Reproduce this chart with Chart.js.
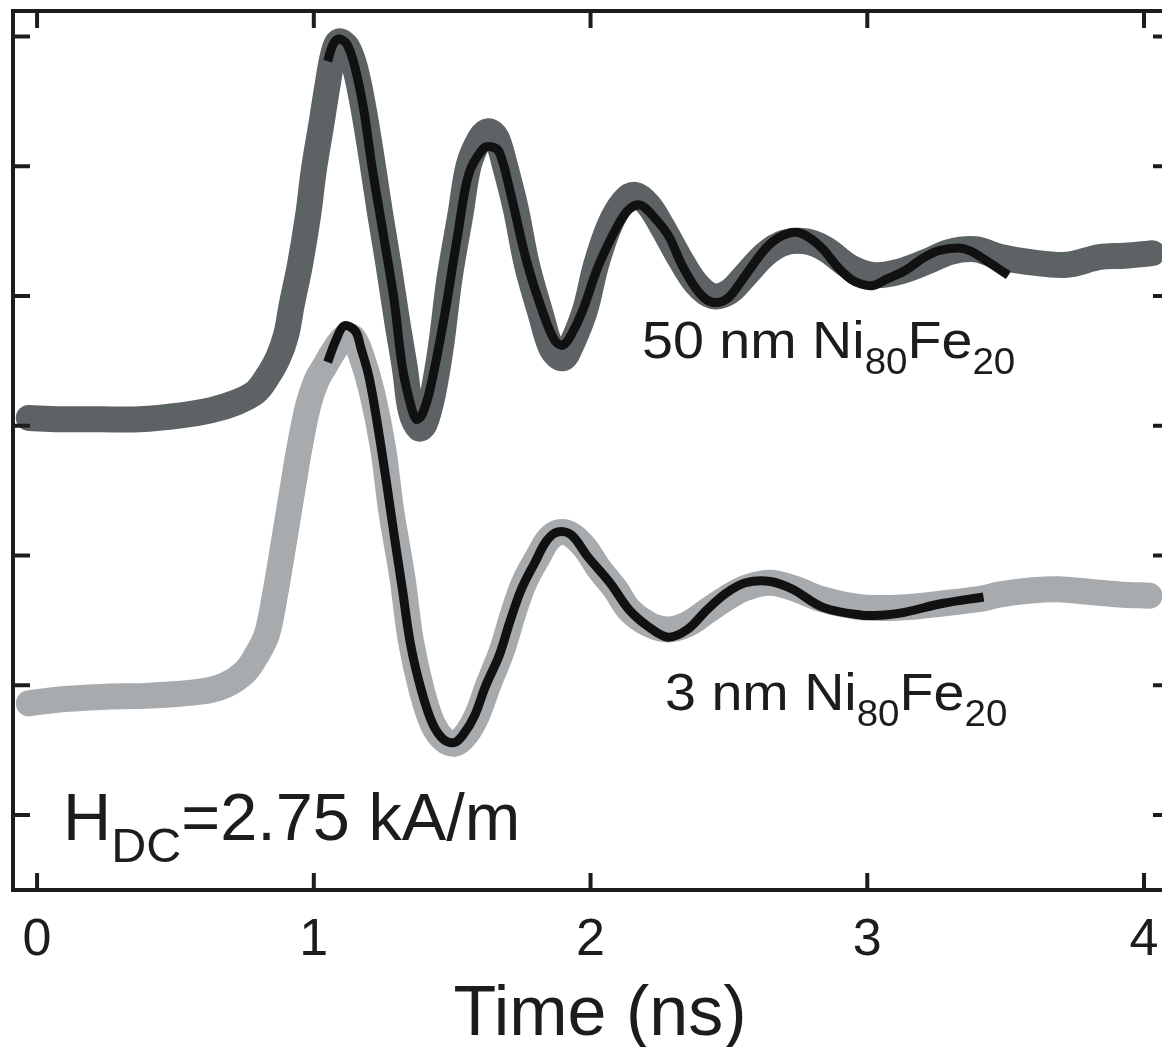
<!DOCTYPE html>
<html>
<head>
<meta charset="utf-8">
<script src="https://cdn.jsdelivr.net/npm/chart.js@4.4.1/dist/chart.umd.min.js"></script>
<style>
  html, body { margin: 0; padding: 0; background: #fff; }
  #wrap { width: 1162px; height: 1047px; }
</style>
</head>
<body>
<div id="wrap"><canvas id="chart" width="1162" height="1047"></canvas></div>
<script>
// 50 nm film: measured signal (ns, arb. units)
const timeThick = [-0.03, 0.08, 0.23, 0.37, 0.52, 0.63, 0.72, 0.79, 0.83, 0.87, 0.90, 0.92, 0.95, 0.98, 1.00, 1.03, 1.05, 1.07, 1.09, 1.12, 1.15, 1.18, 1.21, 1.24, 1.27, 1.30, 1.33, 1.35, 1.38, 1.40, 1.43, 1.46, 1.49, 1.53, 1.56, 1.60, 1.63, 1.66, 1.69, 1.73, 1.77, 1.82, 1.86, 1.90, 1.93, 1.98, 2.02, 2.07, 2.12, 2.16, 2.21, 2.26, 2.32, 2.38, 2.44, 2.50, 2.56, 2.63, 2.70, 2.78, 2.85, 2.94, 3.03, 3.12, 3.21, 3.30, 3.39, 3.48, 3.59, 3.72, 3.84, 3.93, 4.03];
const sigThick  = [3.06, 3.05, 3.05, 3.05, 3.08, 3.12, 3.18, 3.26, 3.37, 3.52, 3.70, 3.93, 4.24, 4.63, 4.97, 5.36, 5.63, 5.86, 5.96, 5.92, 5.75, 5.44, 5.05, 4.63, 4.24, 3.82, 3.43, 3.12, 2.98, 3.01, 3.24, 3.62, 4.13, 4.63, 5.01, 5.21, 5.27, 5.22, 5.01, 4.67, 4.24, 3.86, 3.59, 3.52, 3.62, 3.89, 4.24, 4.55, 4.73, 4.78, 4.70, 4.53, 4.30, 4.10, 4.00, 4.03, 4.16, 4.32, 4.41, 4.42, 4.36, 4.22, 4.16, 4.19, 4.26, 4.34, 4.36, 4.30, 4.26, 4.24, 4.30, 4.31, 4.33];

// 50 nm film: damped-oscillator fit
const timeThickFit = [1.05, 1.07, 1.09, 1.12, 1.15, 1.18, 1.21, 1.25, 1.29, 1.32, 1.35, 1.37, 1.39, 1.42, 1.47, 1.52, 1.56, 1.61, 1.64, 1.67, 1.71, 1.77, 1.83, 1.87, 1.90, 1.93, 1.97, 2.03, 2.10, 2.14, 2.18, 2.22, 2.28, 2.33, 2.38, 2.42, 2.46, 2.50, 2.55, 2.63, 2.68, 2.74, 2.79, 2.84, 2.89, 2.94, 2.98, 3.02, 3.07, 3.14, 3.20, 3.26, 3.33, 3.37, 3.41, 3.46, 3.51];
const sigThickFit  = [5.81, 5.94, 5.98, 5.94, 5.75, 5.44, 5.00, 4.49, 3.97, 3.45, 3.16, 3.05, 3.08, 3.28, 3.82, 4.47, 4.94, 5.13, 5.15, 5.11, 4.80, 4.26, 3.86, 3.66, 3.62, 3.70, 3.88, 4.24, 4.55, 4.67, 4.70, 4.63, 4.47, 4.24, 4.06, 3.97, 3.95, 3.99, 4.13, 4.36, 4.45, 4.49, 4.45, 4.36, 4.23, 4.13, 4.09, 4.08, 4.13, 4.20, 4.29, 4.35, 4.37, 4.35, 4.30, 4.23, 4.16];

// 3 nm film: measured signal
const timeThin = [-0.03, 0.08, 0.23, 0.41, 0.59, 0.68, 0.75, 0.79, 0.83, 0.86, 0.89, 0.92, 0.95, 0.98, 1.01, 1.04, 1.07, 1.11, 1.14, 1.17, 1.21, 1.25, 1.28, 1.32, 1.35, 1.39, 1.43, 1.47, 1.51, 1.55, 1.59, 1.63, 1.68, 1.72, 1.76, 1.81, 1.85, 1.89, 1.93, 1.98, 2.03, 2.09, 2.14, 2.21, 2.28, 2.35, 2.42, 2.49, 2.56, 2.65, 2.73, 2.84, 2.98, 3.13, 3.27, 3.42, 3.48, 3.59, 3.69, 3.80, 3.91, 4.02];
const sigThin  = [0.86, 0.89, 0.91, 0.92, 0.95, 1.00, 1.10, 1.22, 1.39, 1.70, 2.08, 2.47, 2.85, 3.16, 3.35, 3.46, 3.57, 3.68, 3.68, 3.55, 3.26, 2.83, 2.34, 1.83, 1.35, 0.96, 0.70, 0.58, 0.55, 0.62, 0.77, 1.00, 1.27, 1.55, 1.79, 1.99, 2.13, 2.18, 2.16, 2.06, 1.90, 1.74, 1.58, 1.47, 1.43, 1.47, 1.57, 1.67, 1.75, 1.79, 1.75, 1.66, 1.60, 1.60, 1.63, 1.67, 1.70, 1.73, 1.74, 1.72, 1.70, 1.69];

// 3 nm film: fit
const timeThinFit = [1.05, 1.08, 1.11, 1.15, 1.17, 1.20, 1.23, 1.26, 1.29, 1.32, 1.35, 1.39, 1.43, 1.47, 1.51, 1.54, 1.58, 1.62, 1.67, 1.71, 1.75, 1.80, 1.84, 1.88, 1.93, 1.99, 2.07, 2.14, 2.21, 2.28, 2.35, 2.42, 2.49, 2.56, 2.65, 2.73, 2.84, 2.98, 3.05, 3.13, 3.27, 3.42];
const sigThinFit  = [3.49, 3.66, 3.77, 3.73, 3.60, 3.37, 3.01, 2.60, 2.16, 1.74, 1.31, 0.95, 0.70, 0.58, 0.56, 0.62, 0.76, 0.99, 1.23, 1.50, 1.74, 1.95, 2.11, 2.18, 2.16, 1.99, 1.79, 1.58, 1.45, 1.37, 1.43, 1.58, 1.71, 1.79, 1.80, 1.74, 1.60, 1.54, 1.54, 1.56, 1.63, 1.68];

const xTicks = [0, 1, 2, 3, 4];
const yTicks = [0, 1, 2, 3, 4, 5, 6];
const xTitle = 'Time (ns)';

// label runs: [text, isSubscript]
const labelThick = [['50 nm Ni', false], ['80', true], ['Fe', false], ['20', true]];
const labelThin  = [['3 nm Ni', false], ['80', true], ['Fe', false], ['20', true]];
const labelField = [['H', false], ['DC', true], ['=2.75 kA/m', false]];

const FONT = '"Liberation Sans", Arial, Helvetica, sans-serif';
const INK = '#1c1c1c';

const pts = (t, s) => t.map((v, i) => ({ x: v, y: s[i] }));

// draws a run of normal/subscript pieces, optionally stretched horizontally
function drawRuns(ctx, runs, x0, y0, size, subSize, drop, stretch) {
    ctx.save();
    ctx.translate(x0, y0);
    ctx.scale(stretch || 1, 1);
    let xPos = 0;
    runs.forEach(([txt, sub]) => {
        ctx.font = (sub ? subSize : size) + 'px ' + FONT;
        ctx.fillText(txt, xPos, sub ? drop : 0);
        xPos += ctx.measureText(txt).width;
    });
    ctx.restore();
}

// Frame, inward ticks, tick labels and annotations
const framePlugin = {
    id: 'frame',
    afterDatasetsDraw(chart) {
        const { ctx, chartArea: a, scales: { x, y } } = chart;
        ctx.save();
        ctx.strokeStyle = INK;
        ctx.lineWidth = 4;
        ctx.lineCap = 'butt';

        // box (right side runs off the canvas)
        ctx.beginPath();
        ctx.moveTo(a.right + 10, a.top);
        ctx.lineTo(a.left, a.top);
        ctx.lineTo(a.left, a.bottom);
        ctx.lineTo(a.right + 10, a.bottom);
        ctx.stroke();

        const tl = 17;
        ctx.beginPath();
        xTicks.forEach(v => {
            const px = x.getPixelForValue(v);
            ctx.moveTo(px, a.bottom); ctx.lineTo(px, a.bottom - tl);
            ctx.moveTo(px, a.top); ctx.lineTo(px, a.top + tl);
        });
        yTicks.forEach(v => {
            const py = y.getPixelForValue(v);
            ctx.moveTo(a.left, py); ctx.lineTo(a.left + tl, py);
            ctx.moveTo(a.right + 8, py); ctx.lineTo(a.right + 8 - tl, py);
        });
        ctx.stroke();

        // tick labels
        ctx.fillStyle = INK;
        ctx.textAlign = 'center';
        ctx.textBaseline = 'alphabetic';
        ctx.font = '52px ' + FONT;
        xTicks.forEach(v => {
            ctx.fillText(String(v), x.getPixelForValue(v), 955);
        });

        // axis title
        ctx.font = '70px ' + FONT;
        ctx.fillText(xTitle, 600, 1035);

        // curve labels, placed in data coordinates
        ctx.textAlign = 'left';
        drawRuns(ctx, labelThick, x.getPixelForValue(2.186), y.getPixelForValue(3.524), 52, 36, 16, 1.07);
        drawRuns(ctx, labelThin, x.getPixelForValue(2.269), y.getPixelForValue(0.81), 52, 36, 16, 1.07);
        drawRuns(ctx, labelField, x.getPixelForValue(0.094), y.getPixelForValue(-0.193), 66, 48, 22, 1.01);

        ctx.restore();
    }
};

const bandStyle = {
    borderWidth: 26,
    pointRadius: 0,
    borderCapStyle: 'round',
    borderJoinStyle: 'round',
    tension: 0.35,
    fill: false,
    order: 2
};
const fitStyle = {
    borderWidth: 9,
    borderColor: '#111111',
    pointRadius: 0,
    borderCapStyle: 'butt',
    borderJoinStyle: 'round',
    tension: 0.35,
    fill: false,
    order: 1
};

new Chart(document.getElementById('chart').getContext('2d'), {
    type: 'line',
    data: {
        datasets: [
            Object.assign({ label: '50 nm data', data: pts(timeThick, sigThick), borderColor: '#5d6264' }, bandStyle),
            Object.assign({ label: '3 nm data', data: pts(timeThin, sigThin), borderColor: '#a7abae' }, bandStyle),
            Object.assign({ label: '50 nm fit', data: pts(timeThickFit, sigThickFit) }, fitStyle),
            Object.assign({ label: '3 nm fit', data: pts(timeThinFit, sigThinFit) }, fitStyle)
        ]
    },
    options: {
        responsive: false,
        animation: false,
        devicePixelRatio: 1,
        layout: { padding: { left: 13, top: 11, right: 0, bottom: 157 } },
        plugins: { legend: { display: false }, tooltip: { enabled: false } },
        scales: {
            x: { type: 'linear', min: -0.087, max: 4.065, display: false },
            y: { type: 'linear', min: -0.578, max: 6.196, display: false }
        }
    },
    plugins: [framePlugin]
});
</script>
</body>
</html>
